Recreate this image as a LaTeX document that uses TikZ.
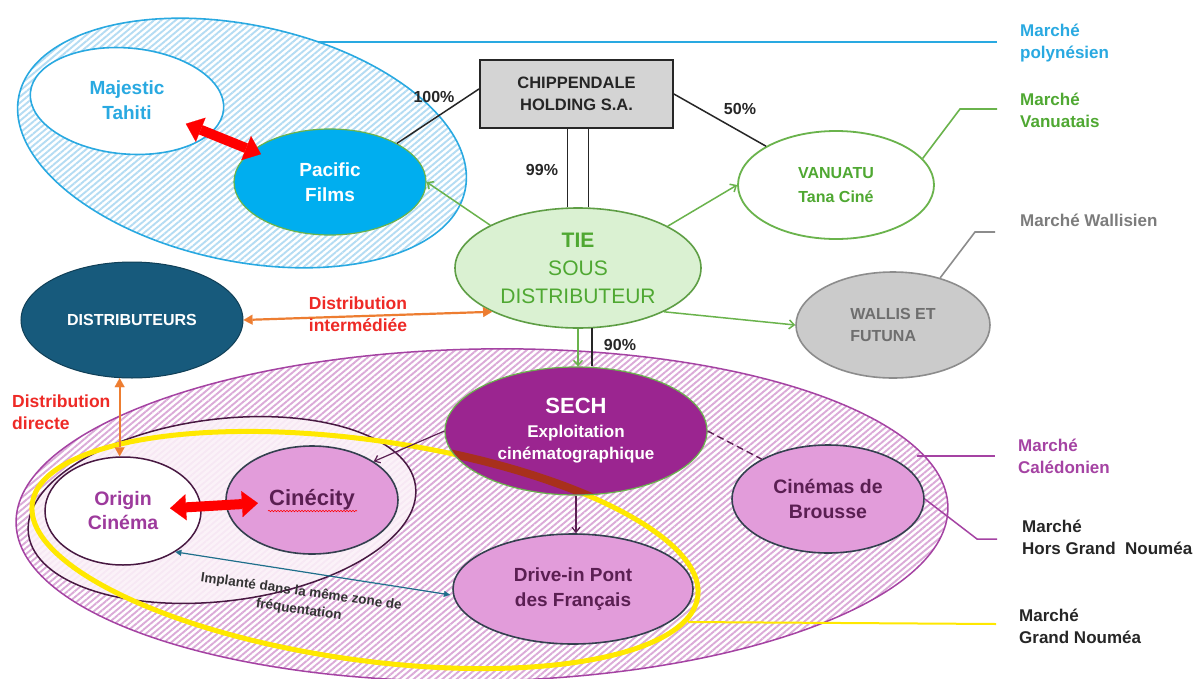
\documentclass[tikz,border=0pt]{standalone}
\usepackage{fontspec}
\setmainfont{Liberation Sans}
\usetikzlibrary{shapes.geometric,arrows.meta,patterns.meta,calc,decorations.pathmorphing}

\definecolor{polyblue}{HTML}{29A9E1}
\definecolor{polyhatch}{HTML}{B4DCF3}
\definecolor{pacblue}{HTML}{00AEEF}
\definecolor{vgreen}{HTML}{4FA832}
\definecolor{vline}{HTML}{6AB34C}
\definecolor{tiefill}{HTML}{DAF1D2}
\definecolor{tiedraw}{HTML}{5E9E45}
\definecolor{wgray}{HTML}{CBCBCB}
\definecolor{wdraw}{HTML}{8C8C8C}
\definecolor{wtext}{HTML}{6E6E6E}
\definecolor{distblue}{HTML}{175A7C}
\definecolor{orangeA}{HTML}{ED7D31}
\definecolor{redlab}{HTML}{EE2A26}
\definecolor{calpurple}{HTML}{A543A3}
\definecolor{calhatch}{HTML}{DBAAD8}
\definecolor{sechfill}{HTML}{9B2590}
\definecolor{pinknode}{HTML}{E29CDA}
\definecolor{nodeline}{HTML}{34404F}
\definecolor{darkplum}{HTML}{5A1F52}
\definecolor{origtext}{HTML}{9D3A9C}
\definecolor{gnyellow}{HTML}{FFE800}
\definecolor{bandred}{HTML}{A8301C}
\definecolor{tealA}{HTML}{1F6F8B}
\definecolor{boxgray}{HTML}{D4D4D4}
\definecolor{groupfill}{HTML}{FBF1F8}

\begin{document}
\begin{tikzpicture}[x=1pt,y=-1pt,
  bubble/.style={ellipse, inner sep=0pt, align=center},
  conn/.style={draw=black!85, line width=1.5pt},
  greenarrow/.style={draw=vline, line width=1.5pt, -{Straight Barb[length=5pt,width=9pt]}},
  orangearrow/.style={draw=orangeA, line width=2.2pt, {Triangle[length=9pt,width=10pt,line width=0.1pt]}-{Triangle[length=9pt,width=10pt,line width=0.1pt]}},
  plumarrow/.style={draw=darkplum, line width=1.2pt, -{Straight Barb[length=5pt,width=8pt]}},
  tealarrow/.style={draw=tealA, line width=1.2pt, {Triangle[length=6pt,width=6pt,line width=0.1pt]}-{Triangle[length=6pt,width=6pt,line width=0.1pt]}},
  bigred/.style={draw=red, line width=10pt, {Triangle[length=16pt,width=26pt,line width=0.1pt]}-{Triangle[length=16pt,width=26pt,line width=0.1pt]}},
  market/.style={anchor=west, align=left, inner sep=0pt, font=\bfseries\fontsize{17}{22}\selectfont},
  pct/.style={font=\bfseries\fontsize{16}{18}\selectfont, text=black!85, inner sep=0pt},
  redlabel/.style={text=redlab, inner sep=0pt, font=\bfseries\fontsize{17.5}{22}\selectfont},
  hatch/.style={pattern={Lines[angle=40,distance=4.6pt,line width=1.9pt]}, pattern color=#1},
]
\useasboundingbox[fill=white] (0,0) rectangle (1195,678);

% ---------- Polynesian market ----------
\draw[polyblue, line width=1.6pt, hatch=polyhatch, rotate around={-12:(242,143)}] (242,143) ellipse [x radius=228, y radius=118];
\coordinate (polyTouch) at (318,42);
\coordinate (polyEnd) at (997,42);
\draw[polyblue, line width=1.6pt] (polyTouch) -- (polyEnd);

\node[bubble, rotate=-5, minimum width=194pt, minimum height=106pt, fill=white, draw=polyblue, line width=1.6pt] (majE) at (127,101) {};
\node[align=center, text=polyblue, font=\bfseries\fontsize{19}{25}\selectfont] (maj) at (127,100) {Majestic\\Tahiti};
\node[bubble, minimum width=192pt, minimum height=106pt, fill=pacblue, draw=vline, line width=1.2pt, text=white, font=\bfseries\fontsize{19}{25}\selectfont] (pac) at (330,182) {Pacific\\Films};
\draw[bigred] ($(maj)!0.29!(pac)$) -- ($(maj)!0.66!(pac)$);

% ---------- holding and sub-distributor ----------
\node[draw=black!85, line width=1.8pt, fill=boxgray, minimum width=193pt, minimum height=68pt, inner sep=0pt, align=center, text=black!85, font=\bfseries\fontsize{16.5}{22}\selectfont] (hold) at (576.5,94) {CHIPPENDALE\\HOLDING S.A.};

\node[bubble, minimum width=246pt, minimum height=120pt, fill=tiefill, draw=tiedraw, line width=1.6pt, text=vgreen, font=\fontsize{21}{28}\selectfont] (tie) at (578,268) {\textbf{TIE}\\SOUS\\DISTRIBUTEUR};

\node[bubble, minimum width=196pt, minimum height=108pt, fill=white, draw=vline, line width=1.8pt, text=vgreen, font=\bfseries\fontsize{16}{24}\selectfont] (van) at (836,185) {VANUATU\\Tana Ciné};

\node[bubble, align=left, minimum width=194pt, minimum height=106pt, fill=wgray, draw=wdraw, line width=1.6pt, text=wtext, font=\bfseries\fontsize{16}{22}\selectfont] (wal) at (893,325) {WALLIS ET\\FUTUNA};

\node[bubble, minimum width=222pt, minimum height=116pt, fill=distblue, draw=distblue!70!black, line width=1pt, text=white, font=\bfseries\fontsize{16}{20}\selectfont] (dist) at (132,320) {DISTRIBUTEURS};

% ---------- Caledonian market ----------
\draw[calpurple, line width=1.5pt, hatch=calhatch, rotate around={1:(482,515)}] (482,515) ellipse [x radius=466, y radius=166];

\draw[draw=darkplum!80!black, line width=1.5pt, fill=groupfill, fill opacity=0.88, rotate around={7:(222,510)}] (222,510) ellipse [x radius=195, y radius=91];

\node[bubble, minimum width=156pt, minimum height=108pt, fill=white, draw=darkplum!80!black, line width=1.5pt, text=origtext, font=\bfseries\fontsize{19.5}{24}\selectfont] (ori) at (123,511) {Origin\\Cinéma};
\node[bubble, minimum width=172pt, minimum height=108pt, fill=pinknode, draw=nodeline, line width=1.6pt, text=darkplum, font=\bfseries\fontsize{22}{26}\selectfont] (cin) at (312,500) {Cinécity};
\draw[red, line width=0.6pt, decorate, decoration={snake, amplitude=0.7pt, segment length=3pt}] ([xshift=-44pt,yshift=-11pt]cin.center) -- ([xshift=45pt,yshift=-11pt]cin.center);

\node[bubble, minimum width=240pt, minimum height=110pt, fill=pinknode, draw=nodeline, line width=1.6pt, text=darkplum, font=\bfseries\fontsize{19}{25}\selectfont] (drv) at (573,589) {Drive-in Pont\\des Français};
\node[bubble, minimum width=192pt, minimum height=108pt, fill=pinknode, draw=nodeline, line width=1.6pt, text=darkplum, font=\bfseries\fontsize{19.5}{25}\selectfont] (bro) at (828,499) {Cinémas de\\Brousse};

% Grand Nouméa outline
\draw[gnyellow, line width=5pt, rotate around={-8:(365,550)}] (365,550) ellipse [x radius=336, y radius=110];

% SECH: the Grand Nouméa outline shows through it as a dark band
\node[bubble, minimum width=262pt, minimum height=128pt, fill=sechfill, draw=vline, line width=1.2pt] (sech) at (576,431) {};
\begin{scope}
  \clip (sech.center) ellipse [x radius=130, y radius=63];
  \draw[bandred, line width=8pt, rotate around={-8:(365,550)}] (365,550) ellipse [x radius=336, y radius=110];
\end{scope}
\node[align=center, inner sep=0pt, text=white, font=\bfseries\fontsize{17}{22}\selectfont] (sechT) at (sech.center) {{\fontsize{22}{22}\selectfont SECH}\\[2pt]Exploitation\\cinématographique};

% ---------- connectors ----------
\draw[conn] (hold.177) -- (pac.30);
\draw[conn] (hold.east) -- (van.151);
\draw[conn] (tie.100 |- hold.south) -- (tie.100);
\draw[conn] (tie.80 |- hold.south) -- (tie.80);
\draw[greenarrow] (tie.154) -- (pac.east);
\draw[greenarrow] (tie.25) -- (van.west);
\draw[greenarrow] (tie.-27) -- (wal.west);
\draw[greenarrow] (tie.south) -- (tie.south |- sech.north);
\draw[conn] (tie.-77) -- (tie.-77 |- sech.north);
\draw[orangearrow] (dist.east) -- (tie.207);
\draw[orangearrow] (dist.-102) -- (dist.-102 |- ori.north);
\draw[plumarrow] (sech.west) -- (cin.32);
\draw[plumarrow] (sech.south) -- (sech.south |- drv.north);
\draw[draw=darkplum, line width=1.4pt, dash pattern=on 7pt off 4pt] (sech.east) -- (bro.149);
\draw[tealarrow, shorten >=3pt] (ori.-38) -- (drv.183);
\draw[bigred] ($(ori)!0.249!(cin)$) -- ($(ori)!0.714!(cin)$);

% ---------- market leader lines ----------
\coordinate (vBend) at (960,109);
\coordinate (vEnd) at (997,109);
\draw[vline, line width=1.6pt] (van.17) -- (vBend) -- (vEnd);
\coordinate (wBend) at (975,232);
\coordinate (wEnd) at (995,232);
\draw[wdraw, line width=1.6pt] (wal.45) -- (wBend) -- (wEnd);
\coordinate (cTouch) at (917,456);
\coordinate (cEnd) at (995,456);
\draw[calpurple, line width=1.5pt] (cTouch) -- (cEnd);
\coordinate (hBend) at (977,539);
\coordinate (hEnd) at (997,539);
\draw[calpurple, line width=1.5pt] (bro.east) -- (hBend) -- (hEnd);
\coordinate (gTouch) at (688,622);
\coordinate (gEnd) at (996,624);
\draw[gnyellow, line width=2pt] (gTouch) -- (gEnd);

% ---------- labels ----------
\node[market, text=polyblue] (mPoly) at (1020,43) {Marché\\polynésien};
\node[market, text=vgreen] (mVan) at (1020,110) {Marché\\Vanuatais};
\node[market, text=wtext!90] (mWal) at (1020,220) {Marché Wallisien};
\node[market, text=calpurple] (mCal) at (1018,456) {Marché\\Calédonien};
\node[market, text=black!85] (mHors) at (1022,537) {Marché\\Hors Grand~ Nouméa};
\node[market, text=black!85] (mGrand) at (1019,626) {Marché\\Grand Nouméa};

\node[pct] (p100) at (434,97) {100\%};
\node[pct] (p99) at (542,170) {99\%};
\node[pct] (p50) at (740,109) {50\%};
\node[pct] (p90) at (620,345) {90\%};

\node[redlabel, align=center] (dInter) at (358,314) {Distribution\\intermédiée};
\node[redlabel, align=left, anchor=west] (dDirect) at (12,412) {Distribution\\directe};

\node[rotate=-8, align=center, inner sep=0pt, text=black!80, font=\bfseries\fontsize{13.5}{18}\selectfont] (impl) at (300,601) {Implanté dans la même zone de\\fréquentation};
\end{tikzpicture}
\end{document}
